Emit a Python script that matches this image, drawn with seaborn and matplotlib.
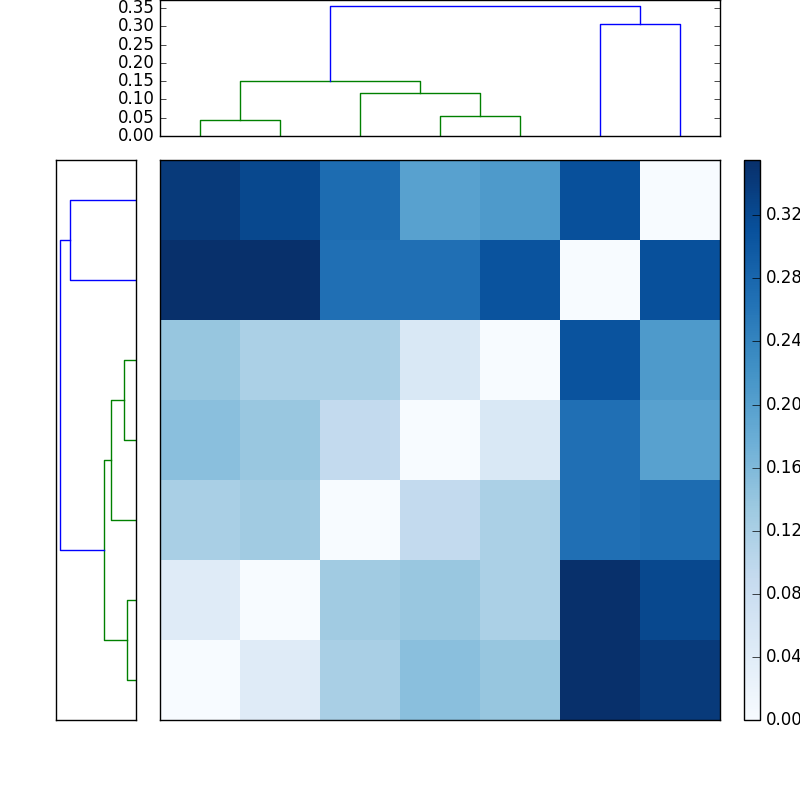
import numpy as np
import matplotlib
matplotlib.use("Agg")
import matplotlib.pyplot as plt
import seaborn as sns

plt.style.use("classic")

# distance matrix (row 0 is drawn at the bottom)
D = [
    [0.000, 0.044, 0.122, 0.150, 0.139, 0.355, 0.341],
    [0.044, 0.000, 0.129, 0.138, 0.118, 0.354, 0.322],
    [0.122, 0.129, 0.000, 0.092, 0.118, 0.269, 0.273],
    [0.150, 0.138, 0.092, 0.000, 0.054, 0.269, 0.198],
    [0.139, 0.118, 0.118, 0.054, 0.000, 0.307, 0.209],
    [0.355, 0.354, 0.269, 0.269, 0.307, 0.000, 0.311],
    [0.341, 0.322, 0.273, 0.198, 0.209, 0.311, 0.000],
]

# linkage: (cluster a, cluster b, merge height), new clusters numbered from n
link_a = [0, 3, 2, 7, 5, 10]
link_b = [1, 4, 8, 9, 6, 11]
link_h = [0.0425, 0.054, 0.118, 0.150, 0.306, 0.3546]
leaf_order = [0, 1, 2, 3, 4, 5, 6]

cbar_ticks = [0.00, 0.04, 0.08, 0.12, 0.16, 0.20, 0.24, 0.28, 0.32]
top_ticks = [0.00, 0.05, 0.10, 0.15, 0.20, 0.25, 0.30, 0.35]


def dendro_lines(n):
    """Build the U-shaped links like scipy's dendrogram does"""
    pos = {leaf: 5.0 + 10.0 * i for i, leaf in enumerate(leaf_order)}
    hgt = {i: 0.0 for i in range(n)}
    thresh = 0.7 * max(link_h)
    lines = []
    for k, (a, b, h) in enumerate(zip(link_a, link_b, link_h)):
        xa, xb = pos[a], pos[b]
        color = "g" if h < thresh else "b"
        lines.append(([xa, xa, xb, xb], [hgt[a], h, h, hgt[b]], color))
        pos[n + k] = (xa + xb) / 2.0
        hgt[n + k] = h
    return lines


n = len(D)
lines = dendro_lines(n)
dvw = max(link_h) * 1.05

fig = plt.figure(figsize=(8, 8), dpi=100, facecolor="white")

# left dendrogram
ax1 = fig.add_axes([0.07, 0.1, 0.1, 0.7])
for xs, ys, c in lines:
    ax1.plot(ys, xs, color=c, lw=1.0)
ax1.set_xlim(dvw, 0)
ax1.set_ylim(0, 10 * n)
ax1.set_xticks([])
ax1.set_yticks([])

# top dendrogram
ax2 = fig.add_axes([0.2, 0.83, 0.7, 0.17])
for xs, ys, c in lines:
    ax2.plot(xs, ys, color=c, lw=1.0)
ax2.set_xlim(0, 10 * n)
ax2.set_ylim(0, dvw)
ax2.set_xticks([])
ax2.set_yticks(top_ticks)
ax2.yaxis.set_major_formatter(matplotlib.ticker.FormatStrFormatter("%.2f"))

# heatmap + colorbar
axm = fig.add_axes([0.2, 0.1, 0.7, 0.7])
cax = fig.add_axes([0.93, 0.1, 0.02, 0.7])
df = np.array(D)
sns.heatmap(df, ax=axm, cmap="Blues", cbar_ax=cax, vmin=df.min(), vmax=df.max(),
            xticklabels=False, yticklabels=False,
            cbar_kws={"ticks": cbar_ticks, "format": "%.2f"})
axm.set_ylim(0, n)
axm.set_xlim(0, n)
for sp in axm.spines.values():
    sp.set_visible(True)
    sp.set_linewidth(1.0)
    sp.set_color("black")
cbar = axm.collections[0].colorbar
cbar.outline.set_linewidth(1.0)
cbar.outline.set_edgecolor("black")
cax.tick_params(labelsize=12, direction="in", length=6, width=0.5)

fig.savefig("out.png", dpi=100, facecolor="white")
